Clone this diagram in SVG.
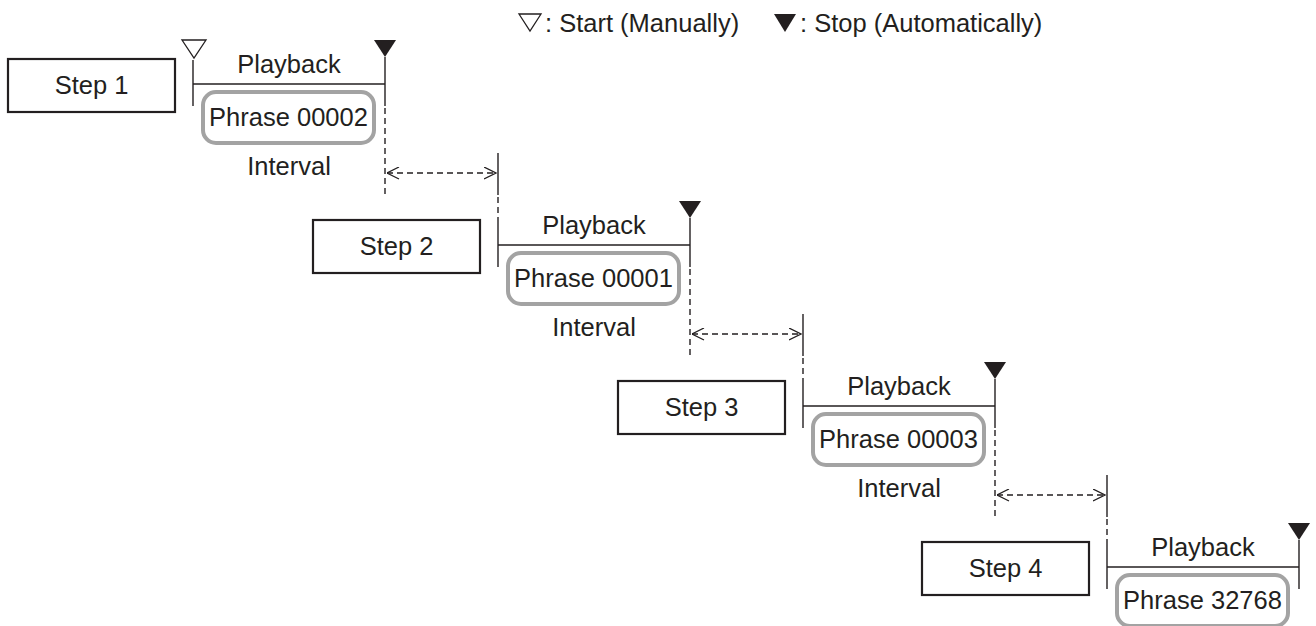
<svg xmlns="http://www.w3.org/2000/svg" width="1316" height="626" viewBox="0 0 1316 626">
<style>
text{font-family:"Liberation Sans",Arial,sans-serif;font-size:25.5px;fill:#231f20;}
.c{text-anchor:middle;}
.step{fill:#fff;stroke:#231f20;stroke-width:2.2;}
.phr{fill:#fff;stroke:#a3a3a3;stroke-width:4;}
.ln{stroke:#231f20;stroke-width:1.4;fill:none;}
.dash{stroke:#231f20;stroke-width:1.4;fill:none;stroke-dasharray:6 4;}
.stop{fill:#231f20;}
.start{fill:#fff;stroke:#231f20;stroke-width:1.3;}
</style>
<defs>
<marker id="ah" viewBox="0 0 13 13" refX="12.5" refY="6.5" markerWidth="13" markerHeight="13" markerUnits="userSpaceOnUse" orient="auto-start-reverse">
<path d="M0.5,0.5 L12.5,6.5 L0.5,12.5" fill="none" stroke="#231f20" stroke-width="1.3"/>
</marker>
</defs>
<rect width="1316" height="626" fill="#fff"/>

<g id="legend">
<polygon class="start" points="519,14 541,14 530,31"/>
<text x="545" y="32">: Start (Manually)</text>
<polygon class="stop" points="774,14 796,14 785,32"/>
<text x="800" y="32">: Stop (Automatically)</text>
</g>

<g id="connectors">
<!-- step 1 timeline -->
<g transform="translate(0,0)">
<line class="ln" x1="193" y1="60" x2="193" y2="106"/>
<line class="ln" x1="193" y1="84" x2="385" y2="84"/>
<line class="ln" x1="385" y1="57" x2="385" y2="106"/>
<line class="dash" x1="385" y1="108" x2="385" y2="195"/>
<line class="dash" x1="387" y1="173" x2="496" y2="173" marker-start="url(#ah)" marker-end="url(#ah)"/>
<line class="ln" x1="498" y1="153" x2="498" y2="195"/>
<line class="dash" x1="498" y1="197" x2="498" y2="221"/>
</g>
<g transform="translate(305,161)">
<line class="ln" x1="193" y1="60" x2="193" y2="106"/>
<line class="ln" x1="193" y1="84" x2="385" y2="84"/>
<line class="ln" x1="385" y1="57" x2="385" y2="106"/>
<line class="dash" x1="385" y1="108" x2="385" y2="195"/>
<line class="dash" x1="387" y1="173" x2="496" y2="173" marker-start="url(#ah)" marker-end="url(#ah)"/>
<line class="ln" x1="498" y1="153" x2="498" y2="195"/>
<line class="dash" x1="498" y1="197" x2="498" y2="221"/>
</g>
<g transform="translate(610,322)">
<line class="ln" x1="193" y1="60" x2="193" y2="106"/>
<line class="ln" x1="193" y1="84" x2="385" y2="84"/>
<line class="ln" x1="385" y1="57" x2="385" y2="106"/>
<line class="dash" x1="385" y1="108" x2="385" y2="195"/>
<line class="dash" x1="387" y1="173" x2="495" y2="173" marker-start="url(#ah)" marker-end="url(#ah)"/>
<line class="ln" x1="497" y1="153" x2="497" y2="195"/>
<line class="dash" x1="497" y1="197" x2="497" y2="221"/>
</g>
<g transform="translate(914,483)">
<line class="ln" x1="193" y1="60" x2="193" y2="106"/>
<line class="ln" x1="193" y1="84" x2="385" y2="84"/>
<line class="ln" x1="385" y1="57" x2="385" y2="106"/>
</g>
</g>

<g id="step1">
<rect class="step" x="8" y="59" width="167" height="53"/>
<text class="c" x="91.5" y="94">Step 1</text>
<polygon class="start" points="182,40 206,40 194,58"/>
<polygon class="stop" points="374,40 396,40 385,57"/>
<text class="c" x="289" y="73">Playback</text>
<rect class="phr" x="203" y="92" width="171" height="51" rx="13"/>
<text class="c" x="288.5" y="126">Phrase 00002</text>
<text class="c" x="289" y="175">Interval</text>
</g>

<g id="step2" transform="translate(305,161)">
<rect class="step" x="8" y="59" width="167" height="53"/>
<text class="c" x="91.5" y="94">Step 2</text>
<polygon class="stop" points="374,40 396,40 385,57"/>
<text class="c" x="289" y="73">Playback</text>
<rect class="phr" x="203" y="92" width="171" height="51" rx="13"/>
<text class="c" x="288.5" y="126">Phrase 00001</text>
<text class="c" x="289" y="175">Interval</text>
</g>

<g id="step3" transform="translate(610,322)">
<rect class="step" x="8" y="59" width="167" height="53"/>
<text class="c" x="91.5" y="94">Step 3</text>
<polygon class="stop" points="374,40 396,40 385,57"/>
<text class="c" x="289" y="73">Playback</text>
<rect class="phr" x="203" y="92" width="171" height="51" rx="13"/>
<text class="c" x="288.5" y="126">Phrase 00003</text>
<text class="c" x="289" y="175">Interval</text>
</g>

<g id="step4" transform="translate(914,483)">
<rect class="step" x="8" y="59" width="167" height="53"/>
<text class="c" x="91.5" y="94">Step 4</text>
<polygon class="stop" points="374,40 396,40 385,57"/>
<text class="c" x="289" y="73">Playback</text>
<rect class="phr" x="203" y="92" width="171" height="51" rx="13"/>
<text class="c" x="288.5" y="126">Phrase 32768</text>
</g>
</svg>
